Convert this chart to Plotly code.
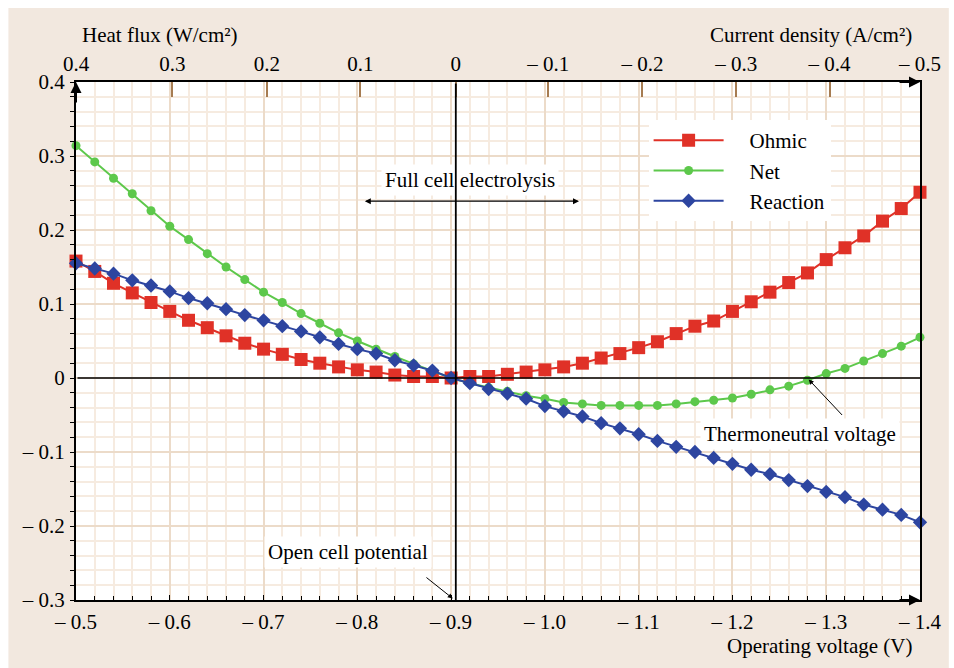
import plotly.graph_objects as go

# ---------------- data ----------------
voltage = [-0.50, -0.52, -0.54, -0.56, -0.58, -0.60, -0.62, -0.64, -0.66, -0.68,
           -0.70, -0.72, -0.74, -0.76, -0.78, -0.80, -0.82, -0.84, -0.86, -0.88,
           -0.90, -0.92, -0.94, -0.96, -0.98, -1.00, -1.02, -1.04, -1.06, -1.08,
           -1.10, -1.12, -1.14, -1.16, -1.18, -1.20, -1.22, -1.24, -1.26, -1.28,
           -1.30, -1.32, -1.34, -1.36, -1.38, -1.40]

ohmic = [0.158, 0.144, 0.128, 0.115, 0.102, 0.090, 0.078, 0.068, 0.057, 0.047,
         0.039, 0.032, 0.025, 0.020, 0.015, 0.011, 0.008, 0.004, 0.002, 0.002,
         0.000, 0.002, 0.002, 0.005, 0.008, 0.011, 0.015, 0.020, 0.027, 0.033,
         0.041, 0.049, 0.060, 0.070, 0.077, 0.090, 0.103, 0.116, 0.129, 0.142,
         0.160, 0.176, 0.192, 0.212, 0.229, 0.251]

net = [0.314, 0.292, 0.270, 0.249, 0.226, 0.205, 0.187, 0.168, 0.150, 0.133,
       0.116, 0.102, 0.087, 0.074, 0.061, 0.050, 0.039, 0.029, 0.019, 0.010,
       0.000, -0.007, -0.013, -0.018, -0.024, -0.028, -0.033, -0.035, -0.037, -0.037,
       -0.037, -0.037, -0.035, -0.032, -0.030, -0.027, -0.022, -0.016, -0.011, -0.003,
       0.006, 0.013, 0.023, 0.033, 0.043, 0.055]

reaction = [0.155, 0.148, 0.141, 0.132, 0.125, 0.117, 0.108, 0.101, 0.093, 0.085,
            0.078, 0.070, 0.063, 0.055, 0.046, 0.039, 0.033, 0.024, 0.017, 0.010,
            0.000, -0.007, -0.015, -0.021, -0.028, -0.038, -0.045, -0.052, -0.061, -0.068,
            -0.076, -0.085, -0.093, -0.100, -0.108, -0.116, -0.124, -0.130, -0.138, -0.146,
            -0.154, -0.161, -0.171, -0.178, -0.185, -0.195]

series_names = ["Ohmic", "Net", "Reaction"]

x_tick_vals = [-0.5, -0.6, -0.7, -0.8, -0.9, -1.0, -1.1, -1.2, -1.3, -1.4]
x_tick_text = ["– 0.5", "– 0.6", "– 0.7", "– 0.8", "– 0.9",
               "– 1.0", "– 1.1", "– 1.2", "– 1.3", "– 1.4"]
y_tick_vals = [-0.3, -0.2, -0.1, 0.0, 0.1, 0.2, 0.3, 0.4]
y_tick_text = ["– 0.3", "– 0.2", "– 0.1", "0", "0.1", "0.2", "0.3", "0.4"]

top_tick_text = ["0.4", "0.3", "0.2", "0.1", "0",
                 "– 0.1", "– 0.2", "– 0.3", "– 0.4", "– 0.5"]
open_cell_v = -0.905
top_tick_pos = [-0.5, -0.6028, -0.7035, -0.8032, open_cell_v,
                -1.0035, -1.104, -1.204, -1.3036, -1.4]

# ---------------- style ----------------
FONT = "Liberation Serif"
FS = 21
RED = "#e03127"
GREEN = "#5dc84b"
BLUE = "#2d45a0"
BEIGE = "#f2e8df"
MINOR_GRID = "#f6ebe0"
MAJOR_GRID = "#ecdbc9"
BROWN = "#a67c52"
PAD = "\u00a0" * 4

fig = go.Figure()
fig.add_trace(go.Scatter(x=voltage, y=ohmic, name=PAD + series_names[0], mode="lines+markers",
                         line=dict(color=RED, width=2),
                         marker=dict(symbol="square", size=13, color=RED),
                         cliponaxis=False))
fig.add_trace(go.Scatter(x=voltage, y=net, name=PAD + series_names[1], mode="lines+markers",
                         line=dict(color=GREEN, width=2),
                         marker=dict(symbol="circle", size=9, color=GREEN),
                         cliponaxis=False))
fig.add_trace(go.Scatter(x=voltage, y=reaction, name=PAD + series_names[2], mode="lines+markers",
                         line=dict(color=BLUE, width=2),
                         marker=dict(symbol="diamond", size=11, color=BLUE),
                         cliponaxis=False))
# invisible trace on top axis so it is rendered
fig.add_trace(go.Scatter(x=[voltage[0], voltage[-1]], y=[None, None], xaxis="x2",
                         showlegend=False, hoverinfo="skip", mode="lines"))

L, R, T, B = 76, 29, 82, 68
W, H = 954, 668
pw, ph = W - L - R, H - T - B


def px_x(p):
    return (p - L) / pw


def px_y(p):
    return (H - B - p) / ph


fig.update_layout(
    width=W, height=H,
    margin=dict(l=L, r=R, t=T, b=B, pad=0),
    paper_bgcolor="white", plot_bgcolor="white",
    font=dict(family=FONT, size=FS, color="black"),
    showlegend=True,
    legend=dict(x=px_x(652), y=px_y(120), xanchor="left", yanchor="top",
                bgcolor="white", borderwidth=0, font=dict(family=FONT, size=FS),
                itemwidth=70, tracegroupgap=0),
    xaxis=dict(range=[-0.5, -1.4], autorange=False,
               tickmode="array", tickvals=x_tick_vals, ticktext=x_tick_text,
               ticks="inside", ticklen=5, tickcolor="black", tickwidth=1,
               showline=True, linecolor="black", linewidth=2, mirror=False,
               showgrid=True, gridcolor=MAJOR_GRID, gridwidth=1.5,
               zeroline=False, ticklabelstandoff=2,
               minor=dict(tickmode="linear", tick0=-0.5, dtick=0.02,
                          ticks="inside", ticklen=4, tickcolor="black",
                          showgrid=True, gridcolor=MINOR_GRID, gridwidth=1.5)),
    xaxis2=dict(overlaying="x", side="top", range=[-0.5, -1.4], autorange=False,
                tickmode="array", tickvals=top_tick_pos, ticktext=top_tick_text,
                ticks="inside", ticklen=15, tickcolor=BROWN, tickwidth=1.5,
                showline=True, linecolor="black", linewidth=2,
                showgrid=False, zeroline=False, ticklabelstandoff=1),
    yaxis=dict(range=[-0.3, 0.4], autorange=False,
               tickmode="array", tickvals=y_tick_vals, ticktext=y_tick_text,
               ticks="outside", ticklen=4, tickcolor="black", tickwidth=1,
               showline=True, linecolor="black", linewidth=2, mirror=True,
               showgrid=True, gridcolor=MAJOR_GRID, gridwidth=1.5,
               zeroline=False, ticklabelstandoff=1,
               minor=dict(tickmode="linear", tick0=-0.3, dtick=0.02,
                          ticks="outside", ticklen=4, tickcolor="black",
                          showgrid=True, gridcolor=MINOR_GRID, gridwidth=1.5)),
)

# beige page background and white plot area
fig.add_shape(type="rect", xref="paper", yref="paper", layer="below",
              x0=px_x(8), x1=px_x(W), y0=px_y(H), y1=px_y(8),
              fillcolor=BEIGE, line_width=0)
fig.add_shape(type="rect", xref="x", yref="y", layer="below",
              x0=-0.5, x1=-1.4, y0=-0.3, y1=0.4,
              fillcolor="white", line_width=0)

ann = []
# axis titles
ann.append(dict(text="Heat flux (W/cm²)", xref="paper", yref="paper",
                x=px_x(80), y=px_y(35), xanchor="left", yanchor="middle", showarrow=False))
ann.append(dict(text="Current density (A/cm²)", xref="paper", yref="paper",
                x=px_x(919), y=px_y(35), xanchor="right", yanchor="middle", showarrow=False))
ann.append(dict(text="Operating voltage (V)", xref="paper", yref="paper",
                x=px_x(919), y=px_y(646), xanchor="right", yanchor="middle", showarrow=False))
# zero line
ann.append(dict(text="", x=-1.4, y=0, ax=-0.5, ay=0, xref="x", yref="y",
                axref="x", ayref="y", showarrow=True, arrowhead=0,
                arrowwidth=1.5, arrowcolor="black", standoff=0, startstandoff=0))
# full cell electrolysis
ann.append(dict(text="Full cell electrolysis", x=-0.9203, y=0.267, xref="x", yref="y",
                showarrow=False, bgcolor="white", borderpad=3))
ann.append(dict(text="", x=-1.0364, y=0.239, ax=-0.8064, ay=0.239, xref="x", yref="y",
                axref="x", ayref="y", showarrow=True, arrowhead=2, arrowside="end+start",
                arrowsize=1, arrowwidth=1.2, arrowcolor="black"))
# vertical open-cell line
ann.append(dict(text="", x=open_cell_v, y=-0.3, ax=open_cell_v, ay=0.4, xref="x", yref="y",
                axref="x", ayref="y", showarrow=True, arrowhead=0,
                arrowwidth=1.8, arrowcolor="black", standoff=0, startstandoff=0))
# thermoneutral
ann.append(dict(text="Thermoneutral voltage", x=-1.2718, y=-0.075, xref="x", yref="y",
                showarrow=False, bgcolor="white", borderpad=3))
ann.append(dict(text="", x=-1.2813, y=-0.002, ax=-1.3184, ay=-0.052, xref="x", yref="y",
                axref="x", ayref="y", showarrow=True, arrowhead=2,
                arrowsize=1, arrowwidth=1, arrowcolor="black"))
# open cell potential
ann.append(dict(text="Open cell potential", x=-0.7905, y=-0.2358, xref="x", yref="y",
                showarrow=False, bgcolor="white", borderpad=3))
ann.append(dict(text="", x=-0.9018, y=-0.298, ax=-0.8721, ay=-0.268, xref="x", yref="y",
                axref="x", ayref="y", showarrow=True, arrowhead=2,
                arrowsize=1, arrowwidth=1, arrowcolor="black"))
# axis arrows
ann.append(dict(text="", x=-0.5, y=0.4, ax=0, ay=22, xref="x", yref="y",
                showarrow=True, arrowhead=2, arrowsize=1.1, arrowwidth=2, arrowcolor="black"))
ann.append(dict(text="", x=-1.4, y=0.4, ax=-22, ay=0, xref="x", yref="y",
                showarrow=True, arrowhead=2, arrowsize=1.1, arrowwidth=2, arrowcolor="black"))
ann.append(dict(text="", x=-1.4, y=-0.3, ax=-22, ay=0, xref="x", yref="y",
                showarrow=True, arrowhead=2, arrowsize=1.1, arrowwidth=2, arrowcolor="black"))

fig.update_layout(annotations=ann)

fig.write_html("out.html")
